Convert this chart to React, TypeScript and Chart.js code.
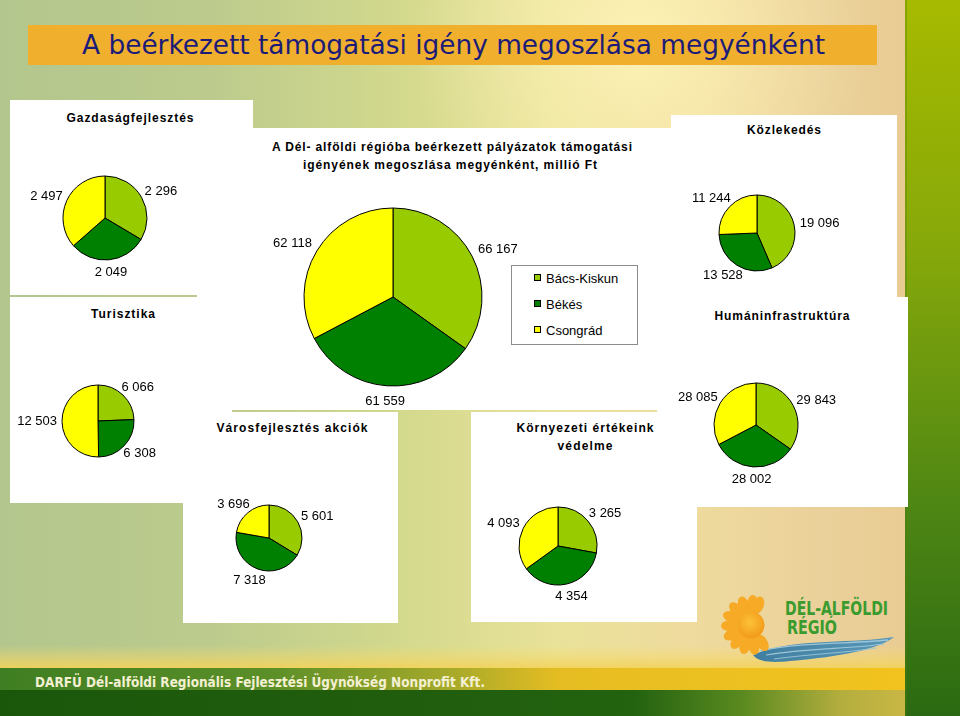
import React, { useEffect, useRef } from 'react';
import { Chart, registerables } from 'chart.js';

Chart.register(...registerables);

// ---------- data ----------
const counties = ['Bács-Kiskun', 'Békés', 'Csongrád'];
const countyColors = ['#99CC00', '#008000', '#FFFF00'];

const totalValues = [66167, 61559, 62118];
const gazdasagValues = [2296, 2049, 2497];
const kozlekedesValues = [19096, 13528, 11244];
const turisztikaValues = [6066, 6308, 12503];
const humanValues = [29843, 28002, 28085];
const varosValues = [5601, 7318, 3696];
const kornyezetValues = [3265, 4354, 4093];

const mainTitle = 'A beérkezett támogatási igény megoszlása megyénként';
const chartTitle1 = 'A Dél- alföldi régióba beérkezett pályázatok támogatási';
const chartTitle2 = 'igényének megoszlása megyénként, millió Ft';
const footerText = 'DARFÜ Dél-alföldi Regionális Fejlesztési Ügynökség Nonprofit Kft.';

const fmt = (v: number) => String(v).replace(/\B(?=(\d{3})+(?!\d))/g, ' ');

// ---------- layout (positions only) ----------
const pies = [
  { values: totalValues, cx: 393, cy: 297, r: 89, gap: 9 },
  { values: gazdasagValues, cx: 105, cy: 218, r: 42, gap: 6 },
  { values: kozlekedesValues, cx: 757, cy: 233, r: 38, gap: 6 },
  { values: turisztikaValues, cx: 98, cy: 421, r: 36, gap: 5 },
  { values: humanValues, cx: 756, cy: 425, r: 42, gap: 6 },
  { values: varosValues, cx: 269, cy: 538, r: 33, gap: 6 },
  { values: kornyezetValues, cx: 558, cy: 546, r: 39, gap: 6 },
];

const LABEL_FONT = '13px "Liberation Sans", Arial, sans-serif';

const outLabels = {
  id: 'outLabels',
  afterDatasetsDraw(chart: any, _args: any, opts: any) {
    const { ctx } = chart;
    const meta = chart.getDatasetMeta(0);
    const data = chart.data.datasets[0].data as number[];
    ctx.save();
    ctx.font = LABEL_FONT;
    ctx.fillStyle = '#000';
    ctx.textAlign = 'center';
    ctx.textBaseline = 'middle';
    meta.data.forEach((arc: any, i: number) => {
      const p = arc.getProps(['x', 'y', 'startAngle', 'endAngle', 'outerRadius'], true);
      const m = (p.startAngle + p.endAngle) / 2;
      const R = p.outerRadius + (opts.gap || 6);
      const txt = fmt(data[i]);
      const w = ctx.measureText(txt).width;
      const px = p.x + Math.cos(m) * R + Math.cos(m) * (w / 2);
      const py = p.y + Math.sin(m) * R + Math.sin(m) * 6;
      ctx.fillText(txt, px, py + 0.5);
    });
    ctx.restore();
  },
};

function PieChart({ values, cx, cy, r, gap }: { values: number[]; cx: number; cy: number; r: number; gap: number }) {
  const ref = useRef<HTMLCanvasElement | null>(null);
  const half = r + 70;
  const size = half * 2;
  useEffect(() => {
    if (!ref.current) return;
    const chart = new Chart(ref.current, {
      type: 'pie',
      data: {
        labels: counties,
        datasets: [
          {
            data: values,
            backgroundColor: countyColors,
            borderColor: '#000000',
            borderWidth: 1,
          },
        ],
      },
      options: {
        responsive: false,
        animation: false,
        events: [],
        radius: r,
        layout: { padding: 0 },
        plugins: {
          legend: { display: false },
          tooltip: { enabled: false },
          title: { display: false },
          // @ts-ignore
          outLabels: { gap },
        },
      } as any,
      plugins: [outLabels as any],
    });
    return () => chart.destroy();
  }, []);
  return (
    <canvas
      ref={ref}
      width={size}
      height={size}
      style={{ position: 'absolute', left: cx - half, top: cy - half, width: size, height: size }}
    />
  );
}

const boldFont = "'Liberation Sans', Arial, sans-serif";

function PanelTitle({ x, y, w, children }: { x: number; y: number; w: number; children: string }) {
  return (
    <text x={x} y={y} textAnchor="middle" textLength={w} lengthAdjust="spacing" fontFamily={boldFont} fontWeight="bold" fontSize={12} fill="#000">
      {children}
    </text>
  );
}

function Sun() {
  const cx = 751;
  const cy = 625;
  const petals: JSX.Element[] = [];
  const angles = [20, 148, 172, 196, 220, 244, 268, 292, 316, 340, 364];
  angles.forEach((a, i) => {
    const rad = ((a - 90) * Math.PI) / 180;
    const d = 21;
    const px = cx + Math.cos(rad) * d;
    const py = cy + Math.sin(rad) * d;
    petals.push(
      <ellipse key={i} cx={px} cy={py} rx={5.5} ry={9} fill="#f6aa26" transform={`rotate(${a} ${px} ${py})`} />
    );
  });
  return (
    <g>
      {petals}
      <circle cx={cx} cy={cy} r={13.5} fill="url(#sunGrad)" />
    </g>
  );
}

export default function App() {
  useEffect(() => {
    document.body.style.margin = '0';
  }, []);
  return (
    <div style={{ position: 'fixed', left: 0, top: 0, width: 960, height: 716, overflow: 'hidden', background: '#d9d98f' }}>
      <svg width={960} height={716} style={{ position: 'absolute', left: 0, top: 0 }}>
        <defs>
          <linearGradient id="bg" x1="0" y1="0" x2="1" y2="0">
            <stop offset="0" stopColor="#b3c68d" />
            <stop offset="0.22" stopColor="#bccb8d" />
            <stop offset="0.42" stopColor="#d3d98d" />
            <stop offset="0.58" stopColor="#e9e29a" />
            <stop offset="0.72" stopColor="#efdb9e" />
            <stop offset="0.86" stopColor="#ead09a" />
            <stop offset="1" stopColor="#e7c98e" />
          </linearGradient>
          <radialGradient id="glow" cx="640" cy="40" r="230" gradientUnits="userSpaceOnUse">
            <stop offset="0" stopColor="#fff4b8" stopOpacity="0.85" />
            <stop offset="1" stopColor="#fff4b8" stopOpacity="0" />
          </radialGradient>
          <linearGradient id="bar" x1="0" y1="0" x2="0" y2="1">
            <stop offset="0" stopColor="#a6ba00" />
            <stop offset="0.35" stopColor="#86a80a" />
            <stop offset="0.7" stopColor="#4f8714" />
            <stop offset="1" stopColor="#2b6a12" />
          </linearGradient>
          <linearGradient id="foot1" x1="0" y1="0" x2="1" y2="0">
            <stop offset="0" stopColor="#3f7e22" />
            <stop offset="0.3" stopColor="#5b8f28" />
            <stop offset="0.5" stopColor="#a8aa2a" />
            <stop offset="0.62" stopColor="#e6bd22" />
            <stop offset="1" stopColor="#f2c31e" />
          </linearGradient>
          <linearGradient id="foot2" x1="0" y1="0" x2="1" y2="0">
            <stop offset="0" stopColor="#1b570b" />
            <stop offset="0.7" stopColor="#23620f" />
            <stop offset="0.82" stopColor="#5a8a20" />
            <stop offset="0.93" stopColor="#b4ae3e" />
            <stop offset="1" stopColor="#c9b745" />
          </linearGradient>
          <linearGradient id="footGlow" x1="0" y1="0" x2="0" y2="1">
            <stop offset="0" stopColor="#f6dc70" stopOpacity="0" />
            <stop offset="1" stopColor="#f3d25a" stopOpacity="0.9" />
          </linearGradient>
          <radialGradient id="sunGrad" cx="0.45" cy="0.4" r="0.6">
            <stop offset="0" stopColor="#fcc238" />
            <stop offset="1" stopColor="#f29a18" />
          </radialGradient>
          <linearGradient id="wave" x1="0" y1="0" x2="1" y2="0">
            <stop offset="0" stopColor="#3f7ea0" />
            <stop offset="1" stopColor="#5a98b8" />
          </linearGradient>
        </defs>

        {/* background */}
        <rect x={0} y={0} width={960} height={716} fill="url(#bg)" />
        <rect x={0} y={0} width={905} height={660} fill="url(#glow)" />

        {/* right green bar */}
        <rect x={905} y={0} width={55} height={716} fill="url(#bar)" />
        <rect x={905} y={0} width={2} height={716} fill="#4f7d10" opacity={0.35} />

        {/* title bar */}
        <rect x={28} y={25} width={849} height={40} fill="#f0b02e" />
        <text
          x={453.5}
          y={54}
          textAnchor="middle"
          textLength={743}
          lengthAdjust="spacingAndGlyphs"
          fontFamily="'DejaVu Sans Condensed','DejaVu Sans',sans-serif"
          fontSize={27}
          fill="#1c1c78"
        >
          {mainTitle}
        </text>

        {/* white panels */}
        <rect x={197} y={128} width={475} height={282} fill="#fff" />
        <rect x={10} y={100} width={243} height={195} fill="#fff" />
        <rect x={10} y={297} width={222} height={206} fill="#fff" />
        <rect x={671} y={115} width={226} height={182} fill="#fff" />
        <rect x={657} y={297} width={251} height={210} fill="#fff" />
        <rect x={183} y={412} width={215} height={211} fill="#fff" />
        <rect x={471} y={412} width={226} height={210} fill="#fff" />

        {/* panel titles */}
        <PanelTitle x={130} y={122} w={127}>Gazdaságfejlesztés</PanelTitle>
        <PanelTitle x={452} y={151} w={360}>{chartTitle1}</PanelTitle>
        <PanelTitle x={450} y={169} w={294}>{chartTitle2}</PanelTitle>
        <PanelTitle x={784} y={134} w={74}>Közlekedés</PanelTitle>
        <PanelTitle x={123} y={318} w={64}>Turisztika</PanelTitle>
        <PanelTitle x={782} y={320} w={135}>Humáninfrastruktúra</PanelTitle>
        <PanelTitle x={292} y={432} w={151}>Városfejlesztés akciók</PanelTitle>
        <PanelTitle x={585} y={432} w={137}>Környezeti értékeink</PanelTitle>
        <PanelTitle x={585} y={450} w={55}>védelme</PanelTitle>

        {/* legend */}
        <rect x={511.5} y={265.5} width={126} height={79} fill="#fff" stroke="#8c8c8c" strokeWidth={1} />
        {counties.map((c, i) => (
          <g key={c}>
            <rect x={534.5} y={274.5 + i * 26} width={6} height={6} fill={countyColors[i]} stroke="#000" strokeWidth={1} />
            <text x={546} y={282.5 + i * 26} fontFamily={boldFont} fontSize={13} fill="#000">
              {c}
            </text>
          </g>
        ))}

        {/* footer */}
        <rect x={0} y={645} width={905} height={23} fill="url(#footGlow)" />
        <rect x={0} y={668} width={905} height={22} fill="url(#foot1)" />
        <rect x={0} y={690} width={905} height={26} fill="url(#foot2)" />
        <text
          x={35}
          y={687}
          textLength={450}
          lengthAdjust="spacingAndGlyphs"
          fontFamily="'Liberation Sans Narrow','DejaVu Sans Condensed',sans-serif"
          fontWeight="bold"
          fontSize={14}
          fill="#f4f0d2"
        >
          {footerText}
        </text>

        {/* logo */}
        <path d="M 753 655 C 790 638, 850 644, 894 637 C 875 652, 825 658, 790 661 C 772 663, 758 662, 753 655 Z" fill="url(#wave)" />
        <path d="M 760 651 C 800 642, 850 644, 888 640" stroke="#9cc6d8" strokeWidth={1.3} fill="none" />
        <path d="M 766 655 C 806 648, 850 649, 884 644" stroke="#9cc6d8" strokeWidth={1.1} fill="none" />
        <path d="M 774 659 C 810 654, 845 653, 876 648" stroke="#9cc6d8" strokeWidth={0.9} fill="none" />
        <Sun />
        <text x={785} y={615} textLength={103} lengthAdjust="spacingAndGlyphs" fontFamily="'DejaVu Sans Condensed','DejaVu Sans',sans-serif" fontWeight="bold" fontSize={19} fill="#3a9b2f">
          DÉL-ALFÖLDI
        </text>
        <text x={787} y={634} textLength={50} lengthAdjust="spacingAndGlyphs" fontFamily="'DejaVu Sans Condensed','DejaVu Sans',sans-serif" fontWeight="bold" fontSize={19} fill="#3a9b2f">
          RÉGIÓ
        </text>
      </svg>

      {pies.map((p, i) => (
        <PieChart key={i} values={p.values} cx={p.cx} cy={p.cy} r={p.r} gap={p.gap} />
      ))}
    </div>
  );
}
